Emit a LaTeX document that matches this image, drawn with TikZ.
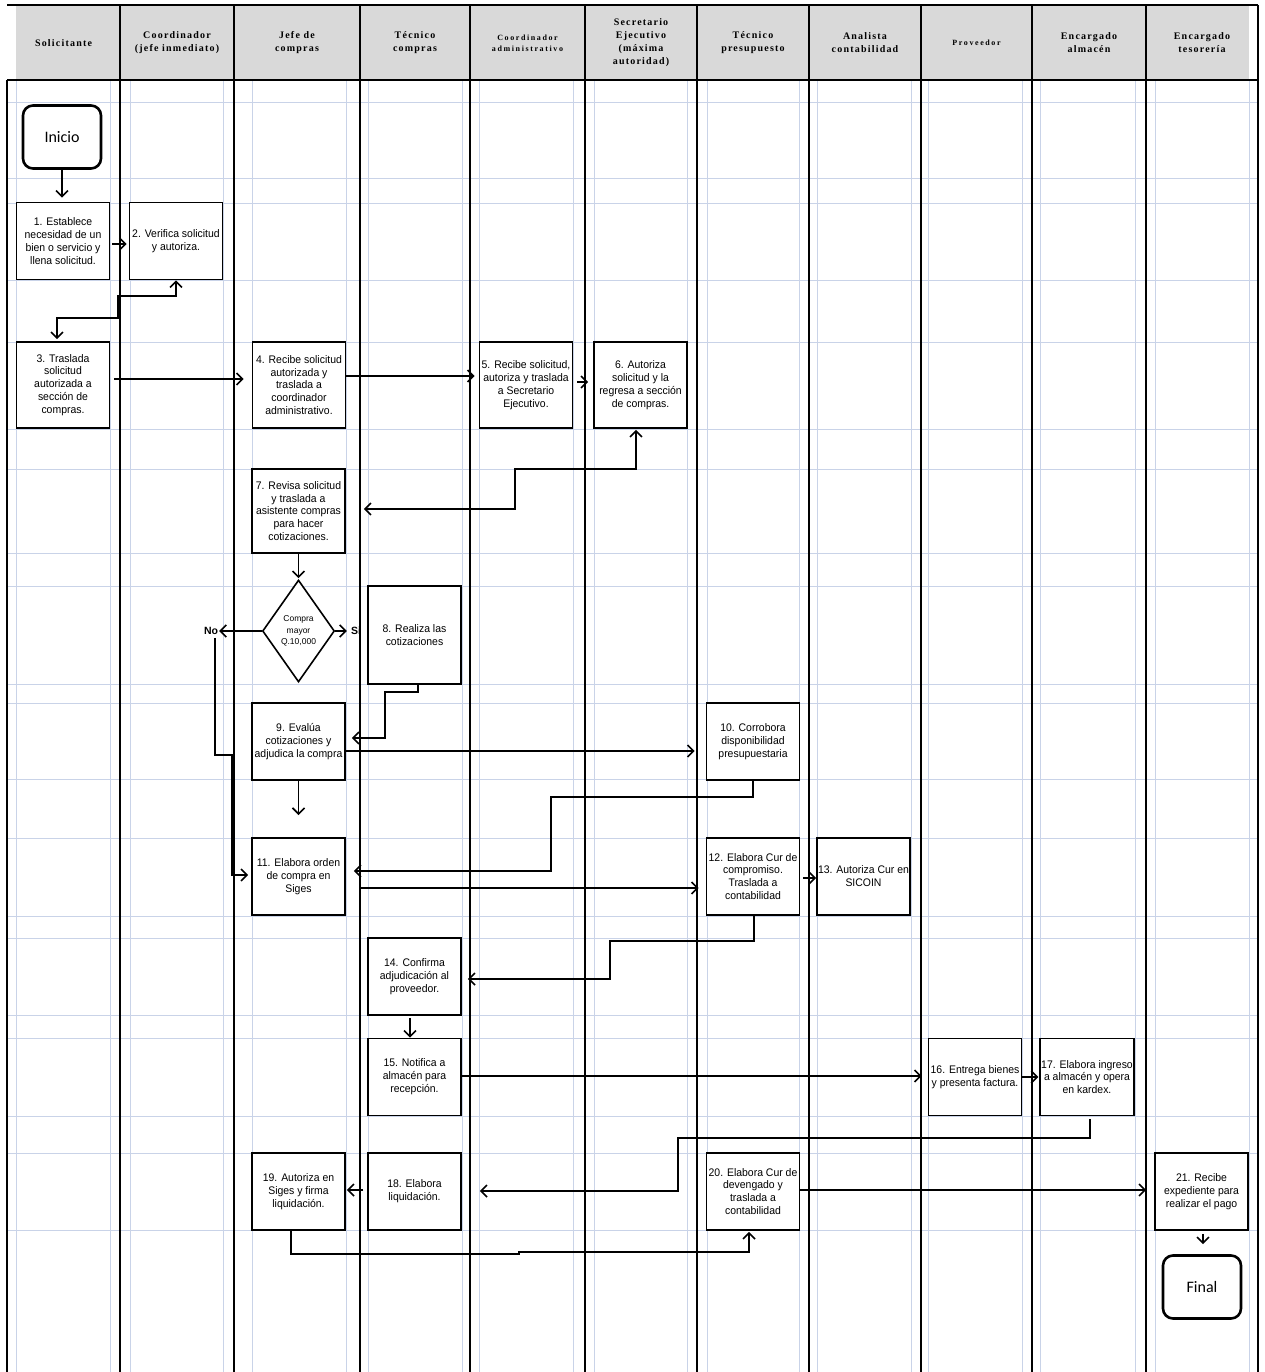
\documentclass[tikz,border=0pt]{standalone}
\usepackage{fontspec}
\setmainfont{Liberation Sans}
\newfontfamily\boxfont{Liberation Sans}[FakeStretch=0.95]
\newfontfamily\hdrfont{Liberation Serif}[LetterSpace=12]
\newfontfamily\hdrsmall{Liberation Serif}[LetterSpace=20]
\newfontfamily\termfont{Carlito}
\usetikzlibrary{arrows.meta,shapes.geometric}
\definecolor{gridc}{RGB}{201,211,232}
\definecolor{hdrgray}{RGB}{217,217,217}
\tikzset{
  barb/.tip={Straight Barb[length=6pt,width=12pt]},
  arr/.style={-barb, line width=1.6pt},
  dbl/.style={barb-barb, line width=1.6pt},
  gridline/.style={gridc, line width=0.8pt},
  laneline/.style={black, line width=1.3pt},
  proc/.style={draw, line width=1.7pt, minimum width=93pt, minimum height=77pt,
    align=center, inner sep=1pt, font=\boxfont\fontsize{11}{12.9}\selectfont},
  term/.style={draw, line width=2.6pt, rounded corners=10pt, minimum width=78pt,
    minimum height=63pt, font=\termfont\fontsize{16}{18}\selectfont},
  hdr/.style={align=center, inner sep=0pt, font=\hdrfont\bfseries\fontsize{10}{13}\selectfont},
  hdrs/.style={align=center, inner sep=0pt, font=\hdrsmall\bfseries\fontsize{8}{11}\selectfont},
  lbl/.style={inner sep=0pt, font=\bfseries\fontsize{10.5}{12}\selectfont},
  dec/.style={draw, diamond, line width=1.6pt, minimum width=72pt, minimum height=102pt,
    inner sep=0pt, align=center, font=\fontsize{8.5}{11.5}\selectfont}
}
\begin{document}
\begin{tikzpicture}[x=1pt,y=-1pt]
\useasboundingbox (0,0) rectangle (1264,1372);
% header background
\fill[hdrgray] (16,5) rectangle (1249,80);
% grid
\foreach \x in {16,110,130,223,252,346,368,462,479,573,594,687,707,799,817,911,928,1022,1040,1135,1155,1249}
  \draw[gridline] (\x,80) -- (\x,1372);
\foreach \y in {102,178,203,280,342,429,469,553,586,684,703,779,838,916,938,1015,1038,1116,1153,1230}
  \draw[gridline] (7,\y) -- (1258,\y);
% lanes
\foreach \x in {120,234,360,470,585,697,809,921,1032,1146}
  \draw[laneline] (\x,5) -- (\x,1372);
\draw[laneline] (7,80) -- (7,1372);
\draw[laneline] (1258,5) -- (1258,1372);
\draw[laneline] (7,5) -- (1258,5);
\draw[laneline] (7,80) -- (1258,80);
% headers
\node[hdr] (h1) at (63.5,43) {Solicitante};
\node[hdr] (h2) at (177,43) {Coordinador\\(jefe inmediato)};
\node[hdr] (h3) at (297,43) {Jefe de\\compras};
\node[hdr] (h4) at (415,43) {Técnico\\compras};
\node[hdrs] (h5) at (527.5,43) {Coordinador\\administrativo};
\node[hdr] (h6) at (641,43) {Secretario\\Ejecutivo\\(máxima\\autoridad)};
\node[hdr] (h7) at (753,43) {Técnico\\presupuesto};
\node[hdr] (h8) at (865,43) {Analista\\contabilidad};
\node[hdrs] (h9) at (976.5,43) {Proveedor};
\node[hdr] (h10) at (1089,43) {Encargado\\almacén};
\node[hdr] (h11) at (1202,43) {Encargado\\tesorería};
% nodes
\node[term,fill=white] (ini) at (62,137) {Inicio};
\node[proc,fill=white] (b1) at (63,241) {1. Establece\\necesidad de un\\bien o servicio y\\llena solicitud.};
\node[proc,fill=white] (b2) at (176,241) {2. Verifica solicitud\\y autoriza.};
\node[proc,fill=white,minimum height=86pt] (b3) at (63,385) {3. Traslada\\solicitud\\autorizada a\\sección de\\compras.};
\node[proc,fill=white,minimum height=86pt] (b4) at (299,385) {4. Recibe solicitud\\autorizada y\\traslada a\\coordinador\\administrativo.};
\node[proc,fill=white,minimum height=86pt] (b5) at (526,385) {5. Recibe solicitud,\\autoriza y traslada\\a Secretario\\Ejecutivo.};
\node[proc,fill=white,minimum height=86pt] (b6) at (640.5,385) {6. Autoriza\\solicitud y la\\regresa a sección\\de compras.};
\node[proc,fill=white,minimum height=84pt] (b7) at (298.5,511) {7. Revisa solicitud\\y traslada a\\asistente compras\\para hacer\\cotizaciones.};
\node[dec,fill=white] (dia) at (298.5,631) {Compra\\mayor\\Q.10,000};
\node[lbl] (nolbl) at (211,631) {No};
\node[lbl] (silbl) at (356,631) {Si};
\node[proc,fill=white,minimum height=98pt] (b8) at (414.5,635) {8. Realiza las\\cotizaciones};
\node[proc,fill=white] (b9) at (298.5,741.5) {9. Evalúa\\cotizaciones y\\adjudica la compra};
\node[proc,fill=white] (b10) at (753,741.5) {10. Corrobora\\disponibilidad\\presupuestaria};
\node[proc,fill=white] (b11) at (298.5,876.5) {11. Elabora orden\\de compra en\\Siges};
\node[proc,fill=white] (b12) at (753,876.5) {12. Elabora Cur de\\compromiso.\\Traslada a\\contabilidad};
\node[proc,fill=white] (b13) at (863.5,876.5) {13. Autoriza Cur en\\SICOIN};
\node[proc,fill=white] (b14) at (414.5,976.5) {14. Confirma\\adjudicación al\\proveedor.};
\node[proc,fill=white] (b15) at (414.5,1077) {15. Notifica a\\almacén para\\recepción.};
\node[proc,fill=white] (b16) at (975,1077) {16. Entrega bienes\\y presenta factura.};
\node[proc,fill=white] (b17) at (1087,1077) {17. Elabora ingreso\\a almacén y opera\\en kardex.};
\node[proc,fill=white] (b18) at (414.5,1191.5) {18. Elabora\\liquidación.};
\node[proc,fill=white] (b19) at (298.5,1191.5) {19. Autoriza en\\Siges y firma\\liquidación.};
\node[proc,fill=white] (b20) at (753,1191.5) {20. Elabora Cur de\\devengado y\\traslada a\\contabilidad};
\node[proc,fill=white] (b21) at (1201.5,1191.5) {21. Recibe\\expediente para\\realizar el pago};
\node[term,fill=white] (fin) at (1202,1287) {Final};
\coordinate (c9) at (298.5,815);
% connectors
\draw[arr, shorten >=4pt] (ini.south) -- (b1.north -| ini.south);
\draw[arr, shorten <=2pt, shorten >=2pt] (b1.east |- 0,244) -- (b2.west |- 0,244);
\draw[dbl, shorten >=2pt] (b2.south) |- (118,296) |- (57,318) -- (b3.north -| 57,0);
\draw[arr, shorten <=4pt, shorten >=8pt] (b3.east |- 0,379) -- (b4.west |- 0,379);
\draw[arr, shorten >=4pt] (b4.east |- 0,376) -- (b5.west |- 0,376);
\draw[arr, shorten <=4pt, shorten >=5pt] (b5.east |- 0,382) -- (b6.west |- 0,382);
\draw[dbl, shorten <=18pt, shorten >=1pt] (b7.east |- 0,509) -| (515,469) -| (b6.south -| 636,0);
\draw[arr, shorten >=1pt] (b7.south) -- (dia.north);
\draw[arr, shorten >=1pt] (dia.west) -- (nolbl.east);
\draw[arr, shorten >=4pt] (dia.east) -- (silbl.west);
\draw[arr, shorten <=3pt, shorten >=3pt] (nolbl.south -| 215,0) |- (232,755) |- (b11.west |- 0,875);
\draw[arr, shorten >=6pt] (b8.south -| 418,0) |- (385,692) |- (b9.east |- 0,738);
\draw[arr, shorten >=11pt] (b9.east |- 0,751) -- (b10.west |- 0,751);
\draw[arr] (b9.south) -- (c9);
\draw[arr, shorten >=8pt] (b10.south) |- (551,797) |- (b11.east |- 0,871);
\draw[arr, shorten <=15pt, shorten >=7pt] (b11.east |- 0,888) -- (b12.west |- 0,888);
\draw[arr, shorten <=3pt] (b12.east |- 0,878) -- (b13.west |- 0,878);
\draw[arr, shorten >=6pt] (b12.south -| 754,0) |- (610,941) |- (b14.east |- 0,979);
\draw[arr, shorten <=2pt] (b14.south -| 410,0) -- (b15.north -| 410,0);
\draw[arr, shorten >=6pt] (b15.east |- 0,1076) -- (b16.west |- 0,1076);
\draw[arr, shorten >=1pt] (b16.east |- 0,1077) -- (b17.west |- 0,1077);
\draw[arr, shorten <=3pt, shorten >=18pt] (b17.south -| 1090,0) |- (678,1138) |- (b18.east |- 0,1191);
\draw[arr, shorten <=4pt, shorten >=1pt] (b18.west |- 0,1190) -- (b19.east |- 0,1190);
\draw[arr, shorten >=1pt] (b19.south -| 291,0) |- (519,1254) -- (519,1252) -| (b20.south -| 749,0);
\draw[arr, shorten >=8pt] (b20.east |- 0,1190) -- (b21.west |- 0,1190);
\draw[arr, shorten <=3pt, shorten >=10pt] (b21.south -| 1203,0) -- (fin.north -| 1203,0);
\end{tikzpicture}
\end{document}
